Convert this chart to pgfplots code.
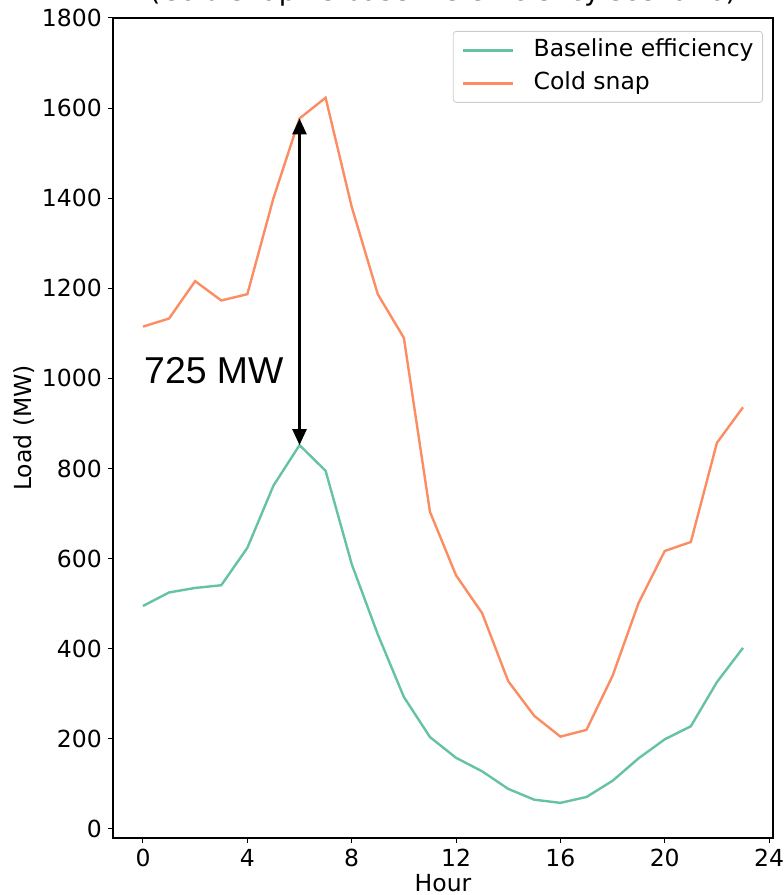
\documentclass[border=0pt]{standalone}
\usepackage{fontspec}
\setmainfont{DejaVu Sans}
\newfontfamily\annfont{Liberation Sans}
\usepackage{pgfplots}
\pgfplotsset{compat=1.18}
\usetikzlibrary{arrows.meta}

\definecolor{setgreen}{HTML}{66C2A5}
\definecolor{setorange}{HTML}{FC8D62}

\newcommand{\tickfont}{\fontsize{23.5}{28}\selectfont}

\begin{document}
\begin{tikzpicture}
\begin{axis}[
  scale only axis,
  width=660pt, height=820pt,
  xmin=-1.15, xmax=24.15,
  ymin=-20, ymax=1800,
  xtick={0,4,8,12,16,20,24},
  ytick={0,200,400,600,800,1000,1200,1400,1600,1800},
  tick align=outside,
  major tick length=5pt,
  tick style={black, line width=1pt},
  axis line style={black, line width=1.1pt},
  xtick pos=bottom, ytick pos=left,
  /pgf/number format/assume math mode=true,
  /pgf/number format/set thousands separator={},
  tick label style={font=\tickfont},
  xticklabel style={anchor=north, inner sep=0pt, yshift=-6pt},
  yticklabel style={anchor=east, inner sep=0pt, xshift=-6pt},
  xlabel={Hour},
  ylabel={Load (MW)},
  label style={font=\tickfont},
  xlabel style={at={(rel axis cs:0.5,0)}, anchor=base, yshift=-53.5pt, inner sep=0pt},
  ylabel style={at={(rel axis cs:0,0.5)}, anchor=center, yshift=89pt, inner sep=0pt},
  title={(Cold snap vs baseline efficiency scenario)},
  title style={at={(rel axis cs:0.5,1)}, anchor=base, yshift=11.5pt, inner sep=0pt,
               font=\fontsize{27.5}{33}\selectfont},
  legend cell align=left,
  legend image code/.code={\draw[#1] (0pt,0pt) -- (50pt,0pt);},
  legend style={at={(rel axis cs:1,1)}, anchor=north east, xshift=-10pt, yshift=-13pt,
                draw=black!20, rounded corners=3pt, line width=0.8pt,
                fill=white, fill opacity=0.8, text opacity=1,
                font=\tickfont, inner xsep=9pt, inner ysep=8pt,
                row sep=11pt,
                /tikz/every odd column/.append style={column sep=19pt},
                nodes={inner sep=0pt, text height=17pt, text depth=5pt}},
]
\addplot[setgreen, line width=2.4pt] coordinates {
  (0,495) (1,525) (2,535) (3,541) (4,624) (5,762) (6,852) (7,795)
  (8,588) (9,432) (10,293) (11,204) (12,158) (13,128) (14,89) (15,65)
  (16,58) (17,71) (18,107) (19,157) (20,199) (21,228) (22,326) (23,402)
};
\addlegendentry{Baseline efficiency}
\addplot[setorange, line width=2.4pt] coordinates {
  (0,1115) (1,1133) (2,1216) (3,1173) (4,1187) (5,1400) (6,1577) (7,1623)
  (8,1381) (9,1187) (10,1090) (11,704) (12,563) (13,479) (14,328) (15,251)
  (16,205) (17,220) (18,340) (19,502) (20,617) (21,637) (22,857) (23,936)
};
\addlegendentry{Cold snap}
% gap between the two peaks at hour 6
\draw[black, line width=2.6pt, {Triangle[length=16pt,width=14pt]}-{Triangle[length=16pt,width=14pt]}]
  (axis cs:6,1577) -- (axis cs:6,852);
\node[anchor=base west, inner sep=0pt, font=\annfont\fontsize{37.4}{43}\selectfont]
  at (axis cs:0.04,988) {725 MW};
\end{axis}
\pgfresetboundingbox
\path[use as bounding box] (-113pt,-57pt) rectangle (671pt,838pt);
\end{tikzpicture}
\end{document}
